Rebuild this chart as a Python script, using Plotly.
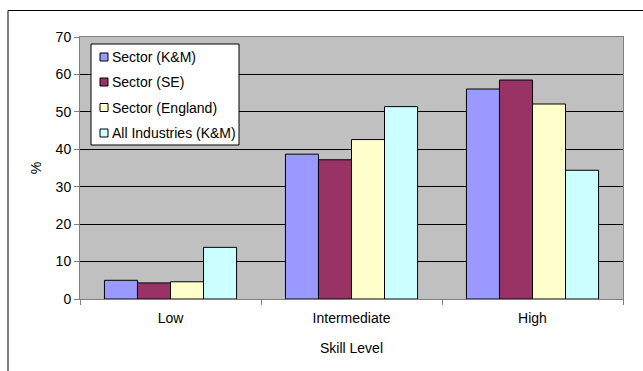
import plotly.graph_objects as go

# Share of employment by skill level (%)
skill_levels = ["Low", "Intermediate", "High"]
sector_km = [5.0, 38.7, 56.1]
sector_se = [4.3, 37.2, 58.5]
sector_england = [4.6, 42.6, 52.1]
all_industries_km = [13.8, 51.4, 34.4]

series_names = ["Sector (K&M)", "Sector (SE)", "Sector (England)", "All Industries (K&M)"]
series_values = [sector_km, sector_se, sector_england, all_industries_km]
series_colors = ["#9999FF", "#993366", "#FFFFCC", "#CCFFFF"]

fig = go.Figure()
for name, vals, col in zip(series_names, series_values, series_colors):
    fig.add_trace(go.Bar(
        x=skill_levels, y=vals, name=name, showlegend=False,
        marker=dict(color=col, line=dict(color="#000000", width=1)),
    ))

font = "Liberation Sans, Arial, sans-serif"

W, H = 643, 371
M_L, M_R, M_T, M_B = 80, 20, 37, 72
PW, PH = W - M_L - M_R, H - M_T - M_B


def px(x):
    return (x - M_L) / PW


def py(y):
    return (H - M_B - y) / PH


shapes = [
    # outer chart frame
    dict(type="rect", xref="paper", yref="paper",
         x0=px(8), x1=px(700), y0=py(420), y1=py(10.5),
         line=dict(color="#000000", width=1), fillcolor="rgba(0,0,0,0)", layer="below"),
    # legend box
    dict(type="rect", xref="paper", yref="paper",
         x0=px(91), x1=px(239), y0=py(145), y1=py(44),
         line=dict(color="#000000", width=1), fillcolor="#FFFFFF", layer="above"),
]
annotations = []
row_y = [57, 82, 107.5, 133]
for name, col, ry in zip(series_names, series_colors, row_y):
    shapes.append(dict(type="rect", xref="paper", yref="paper",
                       x0=px(100), x1=px(108), y0=py(ry + 4), y1=py(ry - 4),
                       line=dict(color="#000000", width=1), fillcolor=col, layer="above"))
    annotations.append(dict(xref="paper", yref="paper", x=px(110), y=py(ry),
                            xanchor="left", yanchor="middle", showarrow=False,
                            text=name, font=dict(family=font, size=14, color="#000000")))

fig.update_layout(
    width=W, height=H,
    margin=dict(l=M_L, r=M_R, t=M_T, b=M_B),
    paper_bgcolor="#FFFFFF",
    plot_bgcolor="#C0C0C0",
    barmode="group",
    bargap=0.27,
    bargroupgap=0,
    font=dict(family=font, size=14, color="#000000"),
    showlegend=False,
    xaxis=dict(
        showgrid=False,
        showline=True, linecolor="#808080", linewidth=1, mirror=True,
        ticks="outside", tickson="boundaries", ticklen=5, tickcolor="#808080",
        tickfont=dict(size=14), ticklabelstandoff=6,
        title=dict(text="Skill Level", font=dict(size=14), standoff=18),
    ),
    yaxis=dict(
        range=[0, 70], dtick=10,
        showgrid=True, gridcolor="#000000", gridwidth=1,
        showline=True, linecolor="#808080", linewidth=1, mirror=True,
        ticks="outside", ticklen=5, tickcolor="#808080",
        tickfont=dict(size=14),
        title=dict(text="%", font=dict(size=14), standoff=10),
        zeroline=False,
    ),
    shapes=shapes,
    annotations=annotations,
)

fig.write_html("out.html")
